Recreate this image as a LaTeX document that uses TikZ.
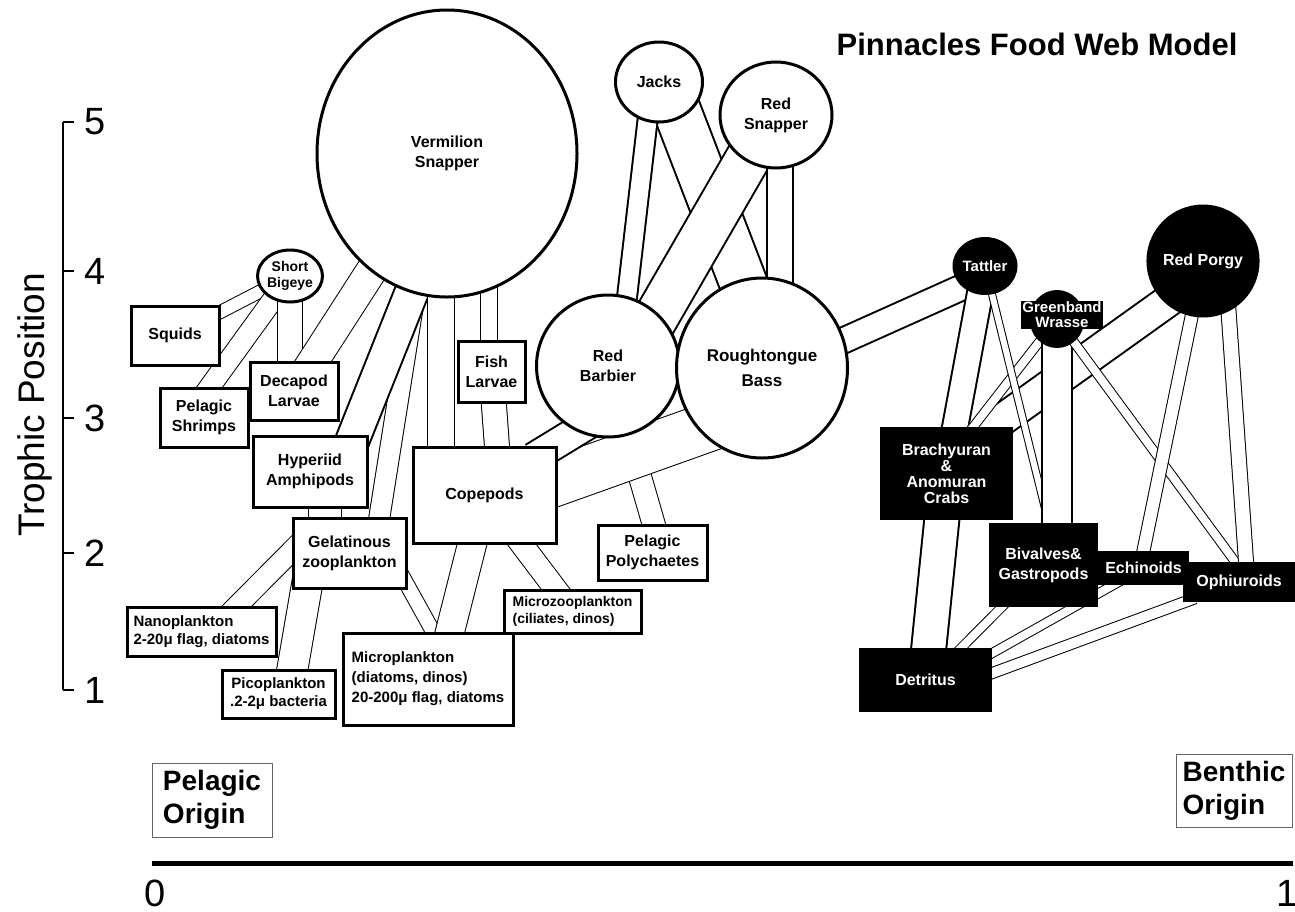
\documentclass[tikz,border=0pt]{standalone}
\usepackage{fontspec}
\setmainfont{Liberation Sans}
\usetikzlibrary{positioning}
\usetikzlibrary{shapes.geometric}
\usetikzlibrary{calc}
\pgfdeclarelayer{background}
\pgfsetlayers{background,main}
\tikzset{
   pelagic/.style={draw=black, line width=1.5pt, fill=white, inner sep=1pt, align=center,
      font=\bfseries\fontsize{8}{10}\selectfont},
   fish/.style={pelagic, ellipse, inner sep=0pt},
   benthic/.style={fill=black, text=white, inner sep=1pt, align=center,
      font=\bfseries\fontsize{8}{10}\selectfont},
   bfish/.style={benthic, ellipse, inner sep=0pt},
   flow/.style={draw=black, line width=0.5pt, double=white, double distance=#1,
      shorten >=-6pt, shorten <=-6pt},
   bigflow/.style={flow=#1, line width=1pt},
   origin/.style={draw=black!60, line width=0.5pt, inner sep=3pt, align=left,
      font=\bfseries\fontsize{14}{16.5}\selectfont},
   axisnum/.style={font=\fontsize{19}{19}\selectfont, inner sep=0pt}
}
\begin{document}
\begin{tikzpicture}[x=0.5pt, y=-0.5pt]
	\useasboundingbox (0,0) rectangle (1295,911);

	\node[font=\bfseries\fontsize{15.5}{18}\selectfont, inner sep=0pt] (title) at (1037,44) {Pinnacles Food Web Model};

	\coordinate (ytop) at (63,122);
	\coordinate (ybot) at (63,690);
	\draw[line width=1.2pt] (ytop) -- (ybot);
	\foreach \lev/\yy in {5/122,4/271,3/418,2/553,1/690}{
		\draw[line width=1.2pt] (63,\yy) -- (74,\yy);
		\node[axisnum, anchor=west] (lev\lev) at (84,\yy) {\lev};
	}
	\node[rotate=90, font=\fontsize{18.5}{20}\selectfont, inner sep=0pt] (ylabel) at (35,405) {Trophic Position};

	\coordinate (xleft) at (152,863);
	\coordinate (xright) at (1293,863);
	\draw[line width=2.5pt] (xleft) -- (xright);
	\node[axisnum] (zero) at (155,893) {0};
	\node[axisnum] (one) at (1287,893) {1};
	\node[origin, minimum width=60pt, minimum height=37pt] (pelorig) at (212,800) {Pelagic\\Origin};
	\node[origin, minimum width=58pt, minimum height=36.5pt] (benorig) at (1234,790.5) {Benthic\\Origin};

	\node[fish, minimum width=130pt, minimum height=143.5pt] (VS) at (447,153.5) {Vermilion\\Snapper};
	\node[fish, minimum width=30pt, minimum height=26pt, font=\bfseries\fontsize{7}{8}\selectfont] (SB) at (290,276) {Short\\Bigeye};
	\node[fish, minimum width=43.5pt, minimum height=40pt] (Jack) at (659,82) {Jacks};
	\node[fish, minimum width=56pt, minimum height=53pt] (RS) at (776,115) {Red\\Snapper};
	\node[fish, minimum width=71.5pt, minimum height=71pt] (RB) at (608,366) {Red\\Barbier};
	\node[fish, minimum width=85.5pt, minimum height=90pt, font=\bfseries\fontsize{8.5}{12.5}\selectfont] (RTB) at (762,368) {Roughtongue\\Bass};

	\node[pelagic, minimum width=44pt, minimum height=29.5pt] (Squid) at (175,335.5) {Squids};
	\node[pelagic, minimum width=44pt, minimum height=29.5pt] (PS) at (204,417.5) {Pelagic\\Shrimps};
	\node[pelagic, minimum width=44pt, minimum height=29pt] (DL) at (294,391) {Decapod\\Larvae};
	\node[pelagic, minimum width=57pt, minimum height=35.5pt] (HA) at (310,471.5) {Hyperiid\\Amphipods};
	\node[pelagic, minimum width=56.5pt, minimum height=35pt] (GZ) at (349.5,553) {Gelatinous\\zooplankton};
	\node[pelagic, align=left, minimum width=74.5pt, minimum height=24.5pt, font=\bfseries\fontsize{7.5}{9}\selectfont] (Nano) at (201.5,631.5) {Nanoplankton\\2-20μ flag, diatoms};
	\node[pelagic, minimum width=56.5pt, minimum height=24pt, font=\bfseries\fontsize{7.5}{9}\selectfont] (Pico) at (278.5,694) {Picoplankton\\.2-2μ bacteria};
	\node[pelagic, align=left, minimum width=85pt, minimum height=46pt, font=\bfseries\fontsize{7.5}{10}\selectfont] (MP) at (428,679) {Microplankton\\(diatoms, dinos)\\20-200μ flag, diatoms};
	\node[pelagic, minimum width=71.5pt, minimum height=48pt] (Cop) at (484.5,495) {Copepods};
	\node[pelagic, minimum width=33.5pt, minimum height=30.5pt] (FL) at (491.5,371.5) {Fish\\Larvae};
	\node[pelagic, align=left, minimum width=68.5pt, minimum height=21.5pt, font=\bfseries\fontsize{7}{8.5}\selectfont] (MZ) at (572.5,611.5) {Microzooplankton\\(ciliates, dinos)};
	\node[pelagic, minimum width=54.5pt, minimum height=27.5pt] (PP) at (652.5,552.5) {Pelagic\\Polychaetes};

	\node[bfish, minimum width=32.5pt, minimum height=29pt, font=\bfseries\fontsize{7.5}{9}\selectfont] (Tat) at (985,266) {Tattler};
	\node[bfish, minimum width=27.5pt, minimum height=29pt] (GW) at (1057,319) {};
	\node[benthic, inner sep=0.5pt, font=\bfseries\fontsize{7.5}{7.5}\selectfont] (GWlab) at (1062,315) {Greenband\\Wrasse};
	\node[bfish, minimum width=55pt, minimum height=56.5pt] (RP) at (1203,261) {Red Porgy};
	\node[benthic, minimum width=66.5pt, minimum height=46.5pt, font=\bfseries\fontsize{8}{8}\selectfont] (Crab) at (946.5,473.5) {Brachyuran\\\&\\Anomuran\\Crabs};
	\node[benthic, minimum width=54.5pt, minimum height=42pt] (Biv) at (1043.5,565) {Bivalves\&\\Gastropods};
	\node[benthic, minimum width=45.5pt, minimum height=17pt] (Ech) at (1143.5,568) {Echinoids};
	\node[benthic, minimum width=56pt, minimum height=20pt] (Oph) at (1239,582) {Ophiuroids};
	\node[benthic, minimum width=66.5pt, minimum height=32pt] (Det) at (925.5,680) {Detritus};

	\begin{pgfonlayer}{background}
	\draw[flow=6pt] (SB) -- (Squid);
	\draw[flow=10pt] (SB) -- ($(PS.north)+(6,0)$);
	\draw[flow=12pt] (SB) -- ($(DL.center)+(-4,0)$);
	\draw[flow=15pt] (VS) -- (DL);
	\draw[flow=10pt] ($(VS.center)+(-10,0)$) -- ($(GZ.north)+(30,0)$);
	\draw[bigflow=16pt] ($(VS.center)+(20,0)$) -- ($(HA.center)+(30,0)$);
	\draw[flow=13pt] ($(VS.center)+(-6,0)$) -- ($(Cop.center)+(-43.5,0)$);
	\draw[flow=8pt] ($(VS.center)+(42,0)$) -- ($(FL.center)+(-2.5,0)$);
	\draw[flow=12pt] (FL) -- ($(Cop.center)+(16,0)$);
	\draw[flow=16pt] ($(HA.center)+(15,0)$) -- ($(GZ.center)+(-24.5,0)$);
	\draw[flow=10pt] ($(GZ.center)+(-40,-20)$) -- ($(Nano.north)+(36,0)$);
	\draw[flow=15pt] ($(GZ.center)+(-37,0)$) -- ($(Pico.north)+(14,0)$);
	\draw[flow=7pt] ($(GZ.center)+(40,0)$) -- ($(MP.north)+(5,0)$);
	\draw[flow=14pt] (Cop) -- ($(MP.north)+(22,0)$);
	\draw[flow=11pt] (Cop) -- (MZ);
	\draw[bigflow=23pt] ($(Jack.center)+(7,0)$) -- ($(RTB.center)+(14,0)$);
	\draw[bigflow=9pt] ($(Jack.center)+(-7,0)$) -- ($(RB.center)+(11,0)$);
	\draw[bigflow=21.5pt] ($(RS.center)+(-3,0)$) -- ($(RB.center)+(20,0)$);
	\draw[bigflow=12pt] ($(RS.center)+(4,0)$) -- ($(RTB.center)+(18,0)$);
	\draw[flow=11pt] (RB) -- ($(PP.north)+(1,0)$);
	\draw[flow=24pt] ($(RTB.center)+(0,40)$) -- ($(Cop.center)+(0,12)$);
	\draw[bigflow=14pt] ($(RB.center)+(10,40)$) -- ($(Cop.north east)+(-14,6)$);
	\draw[bigflow=12pt] ($(Tat.center)+(0,11)$) -- ($(RTB.center)+(0,9)$);
	\draw[bigflow=12pt] (Tat) -- (Crab);
	\draw[bigflow=15pt] ($(RP.center)+(0,15)$) -- ($(Crab.north east)+(-21,0)$);
	\draw[flow=4pt] (GW) -- ($(Crab.north east)+(-40,0)$);
	\draw[flow=3pt] (Tat) -- ($(Biv.north)+(5,0)$);
	\draw[bigflow=14pt] (GW) -- ($(Biv.center)+(13.5,0)$);
	\draw[flow=4pt] (GW) -- ($(Oph.north)+(-4,0)$);
	\draw[flow=6pt] (RP) -- (Ech.north);
	\draw[flow=7pt] ($(RP.center)+(22,0)$) -- ($(Oph.north)+(7,0)$);
	\draw[bigflow=16.5pt] (Crab) -- (Det);
	\draw[flow=4pt] (Biv) -- ($(Det.north)+(36,0)$);
	\draw[flow=4pt] (Ech) -- ($(Det.east)+(0,-27)$);
	\draw[flow=5pt] (Oph) -- ($(Det.east)+(0,-7)$);
	\end{pgfonlayer}
\end{tikzpicture}
\end{document}
